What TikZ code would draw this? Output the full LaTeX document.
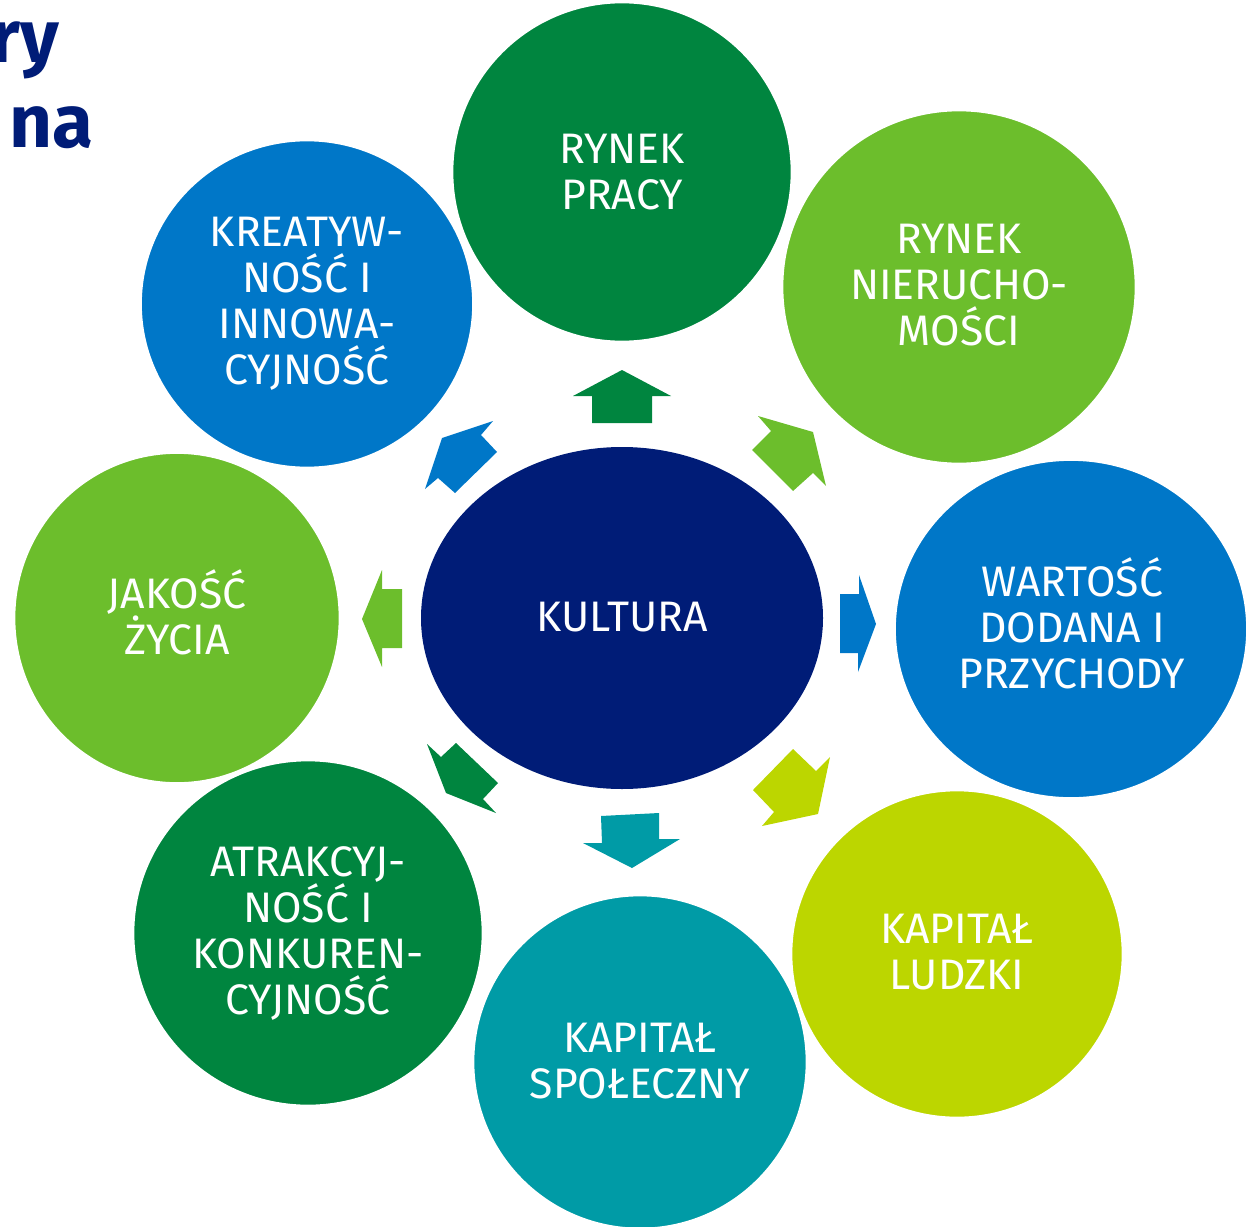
\documentclass[tikz,border=0pt]{standalone}
\usepackage{fontspec}
\setmainfont{Fira Sans}
\usetikzlibrary{shapes.geometric}
\definecolor{dgreen}{HTML}{00853F}
\definecolor{lgreen}{HTML}{6CBE2C}
\definecolor{cblue}{HTML}{0077C8}
\definecolor{lime}{HTML}{BCD600}
\definecolor{teal}{HTML}{009BA6}
\definecolor{navy}{HTML}{001C77}
\tikzset{
  bubble/.style={ellipse, fill=#1, draw=white, line width=2pt, inner sep=0pt},
  btext/.style={text=white, align=center, inner sep=0pt, font=\fontsize{32}{34.5}\selectfont},
  barrow/.style={fill=#1, draw=none},
  frag/.style={text=navy, font=\fontsize{56}{60}\selectfont\bfseries, inner sep=0pt, anchor=base east}
}
\begin{document}
\begin{tikzpicture}[x=0.75pt,y=-0.75pt]
\useasboundingbox (0,0) rectangle (1252,1227);
\clip (0,0) rectangle (1252,1227);
% title fragments
\node[frag] (t1) at (59,63) {ry};
\node[frag] (t2) at (94,148) {na};
% circles
\node[bubble=dgreen, minimum width=340*0.75pt, minimum height=340*0.75pt] (pracy) at (622,172) {};
\node[bubble=lgreen, minimum width=354*0.75pt, minimum height=354*0.75pt] (nier) at (959,287) {};
\node[bubble=cblue, minimum width=353*0.75pt, minimum height=339*0.75pt] (wart) at (1071,629) {};
\node[bubble=lime, minimum width=332*0.75pt, minimum height=328*0.75pt] (ludz) at (957,954) {};
\node[bubble=teal, minimum width=334*0.75pt, minimum height=334*0.75pt] (spol) at (640,1062) {};
\node[bubble=lgreen, minimum width=326*0.75pt, minimum height=331*0.75pt] (jak) at (177,618) {};
\node[bubble=dgreen, minimum width=350*0.75pt, minimum height=346*0.75pt] (atr) at (308,933) {};
\node[bubble=cblue, minimum width=333*0.75pt, minimum height=328*0.75pt] (kre) at (307,304) {};
\node[bubble=navy, draw=none, minimum width=402*0.75pt, minimum height=342*0.75pt] (kult) at (622,618) {};
% texts
\node[btext] (pracy-t) at (622,172) {RYNEK\\PRACY};
\node[btext] (nier-t) at (959,285) {RYNEK\\NIERUCHO-\\MOŚCI};
\node[btext] (wart-t) at (1072,623) {WARTOŚĆ\\DODANA I\\PRZYCHODY};
\node[btext] (ludz-t) at (957,952) {KAPITAŁ\\LUDZKI};
\node[btext] (spol-t) at (640,1061) {KAPITAŁ\\SPOŁECZNY};
\node[btext] (jak-t) at (177,612) {JAKOŚĆ\\ŻYCIA};
\node[btext] (atr-t) at (308,933) {ATRAKCYJ-\\NOŚĆ I\\KONKUREN-\\CYJNOŚĆ};
\node[btext] (kre-t) at (307,304) {KREATYW-\\NOŚĆ I\\INNOWA-\\CYJNOŚĆ};
\node[btext] (kult-t) at (622,617) {KULTURA};
% block arrows
\fill[barrow=dgreen] (573,396) -- (622,370) -- (671,396) -- (652,396) -- (652,423) -- (592,423) -- (592,396) -- cycle;
\fill[barrow=lgreen] (758,416) -- (813,432) -- (826,486) -- (813,473) -- (793,491) -- (752,450) -- (771,431) -- cycle;
\fill[barrow=cblue] (840,594) -- (859,594) -- (859,575) -- (876,624) -- (858,672) -- (858,653) -- (840,653) -- cycle;
\fill[barrow=lime] (793,749) -- (816,771) -- (830,757) -- (818,814) -- (762,826) -- (774,812) -- (753,790) -- cycle;
\fill[barrow=teal] (601,816) -- (659,813) -- (659,839) -- (680,839) -- (632,868) -- (583,843) -- (602,843) -- cycle;
\fill[barrow=dgreen] (427,744) -- (441,757) -- (456,743) -- (498,783) -- (483,799) -- (496,813) -- (446,793) -- cycle;
\fill[barrow=lgreen] (402,589) -- (382,589) -- (382,570) -- (362,619) -- (382,667) -- (382,648) -- (402,648) -- cycle;
\fill[barrow=cblue] (493,421) -- (481,435) -- (497,452) -- (455,493) -- (438,478) -- (425,489) -- (442,438) -- cycle;
\end{tikzpicture}
\end{document}
